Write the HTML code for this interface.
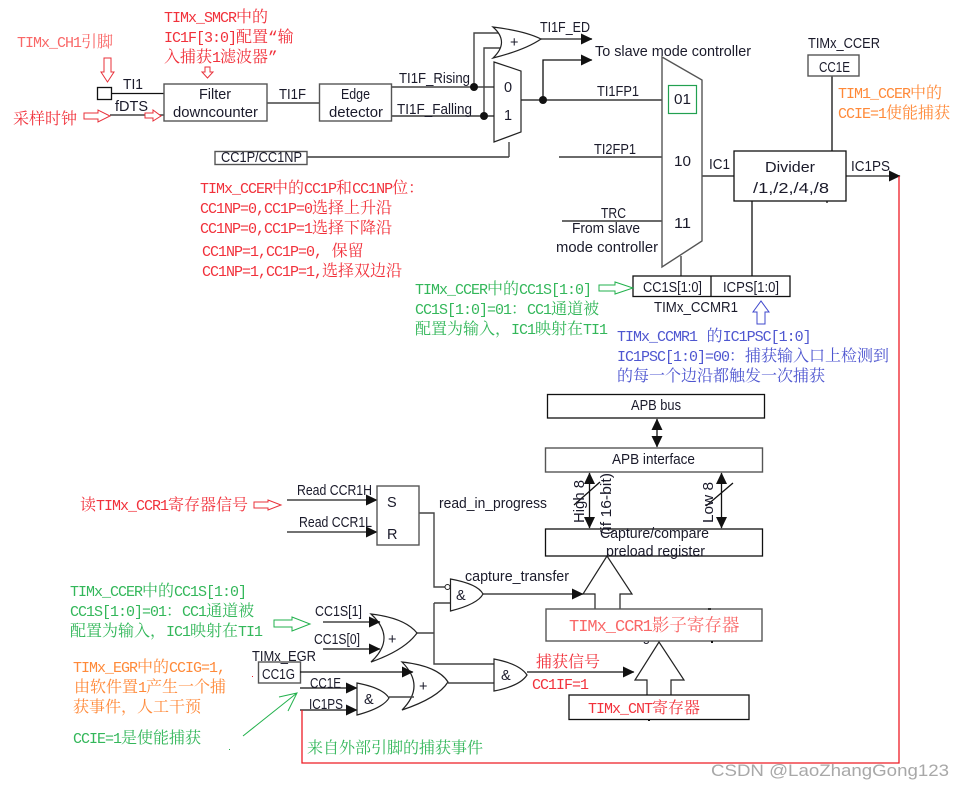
<!DOCTYPE html>
<html><head><meta charset="utf-8">
<style>
html,body{margin:0;padding:0;background:#fff;width:965px;height:790px;overflow:hidden}
svg{display:block}
.k{font-family:"Liberation Sans",sans-serif;font-size:14.5px;fill:#1a1a2a}
.c{font-family:"Liberation Mono","Noto Serif CJK SC",serif;font-size:16px;fill-opacity:.92}
.c tspan{font-size:15px;letter-spacing:-1px}
.r{fill:#f0202a}.g{fill:#22b14c}.o{fill:#ff7f27}.b{fill:#3f48cc}.lr{fill:#f85a5a}
.l{fill:none;stroke:#444;stroke-width:1.4}
.d{fill:none;stroke:#111;stroke-width:1.3}
.box{fill:#fff;stroke:#555;stroke-width:1.4}
.bk{fill:#fff;stroke:#111;stroke-width:1.3}
.ha{fill:#fff;stroke:#e8303a;stroke-width:1}
.hg{fill:#fff;stroke:#22b14c;stroke-width:1}
.hb{fill:#fff;stroke:#3f48cc;stroke-width:1}
.gate{fill:#fff;stroke:#222;stroke-width:1.2}
</style></head><body>
<svg width="965" height="790" viewBox="0 0 965 790" xmlns="http://www.w3.org/2000/svg">
<defs><marker id="a" markerWidth="12" markerHeight="12" refX="11" refY="5.5" orient="auto" markerUnits="userSpaceOnUse"><path d="M0 0L11.5 5.5L0 11z" fill="#111"/></marker>
<marker id="s" markerWidth="12" markerHeight="12" refX="11" refY="5.5" orient="auto-start-reverse" markerUnits="userSpaceOnUse"><path d="M0 0L11.5 5.5L0 11z" fill="#111"/></marker></defs>

<!-- top wires -->
<path class="d" d="M112 93.5H164"/><path class="l" d="M110 115H164"/><path class="l" d="M267 103H320"/>
<path class="l" d="M391 87H474M474 87V33H500"/><path class="d" d="M391 116H494"/><path class="l" d="M474 87H494M484 116V48H500"/>
<circle cx="474" cy="87" r="4" fill="#111"/><circle cx="484" cy="116" r="4" fill="#111"/>
<path class="d" d="M307 157H509"/><path class="l" d="M509 157V142"/>
<path class="l" d="M541 39H592" marker-end="url(#a)"/>
<path class="d" d="M521 100H662M543 100V60H592" marker-end="url(#a)"/>
<circle cx="543" cy="100" r="4" fill="#111"/>
<path class="d" d="M559 157H662M562 221H662M702 176H734"/>
<path class="l" d="M846 176H900" marker-end="url(#a)"/>
<path class="d" d="M832 76V151M752 201V276M827 201V203"/><path class="l" d="M681 256V276"/>

<!-- top boxes -->
<rect class="bk" x="97.500" y="87.500" width="14" height="12"/>
<rect class="box" x="164" y="84" width="103" height="37"/>
<rect class="box" x="319.500" y="84" width="72" height="37"/>
<rect class="box" x="215" y="151.500" width="92" height="13"/>
<path class="gate" d="M494 62L521 71V132L494 142Z"/>
<path class="gate" d="M493 27Q525 31 541 39Q525 50 493 58Q510 42 493 27Z"/>
<path class="box" d="M662 57L702 80V241L662 267Z"/>
<rect x="668.500" y="85.500" width="28" height="28" fill="none" stroke="#22a050" stroke-width="1.2"/>
<rect class="bk" x="734" y="151" width="112" height="50"/>
<rect class="box" x="808" y="55" width="51" height="21"/>
<rect class="bk" x="633" y="276" width="157" height="20.500"/><path class="d" d="M711 276V296"/>

<!-- top labels -->
<text class="k" x="123" y="89" textLength="20" lengthAdjust="spacingAndGlyphs">TI1</text>
<text class="k" x="115" y="111" textLength="33" lengthAdjust="spacingAndGlyphs">fDTS</text>
<text class="k" x="199" y="99" textLength="32" lengthAdjust="spacingAndGlyphs">Filter</text>
<text class="k" x="173" y="117" textLength="85" lengthAdjust="spacingAndGlyphs">downcounter</text>
<text class="k" x="279" y="99" textLength="27" lengthAdjust="spacingAndGlyphs">TI1F</text>
<text class="k" x="341" y="99" textLength="29" lengthAdjust="spacingAndGlyphs">Edge</text>
<text class="k" x="329" y="117" textLength="54" lengthAdjust="spacingAndGlyphs">detector</text>
<text class="k" x="399" y="83" textLength="71" lengthAdjust="spacingAndGlyphs">TI1F_Rising</text>
<text class="k" x="397" y="114" textLength="75" lengthAdjust="spacingAndGlyphs">TI1F_Falling</text>
<text class="k" x="504" y="92">0</text><text class="k" x="504" y="120">1</text>
<text class="k" x="510" y="47">+</text>
<text class="k" x="540" y="32" textLength="50" lengthAdjust="spacingAndGlyphs">TI1F_ED</text>
<text class="k" x="595" y="56" textLength="156" lengthAdjust="spacingAndGlyphs">To slave mode controller</text>
<text class="k" x="597" y="96" textLength="42" lengthAdjust="spacingAndGlyphs">TI1FP1</text>
<text class="k" x="674" y="104" textLength="17" lengthAdjust="spacingAndGlyphs">01</text>
<text class="k" x="594" y="154" textLength="42" lengthAdjust="spacingAndGlyphs">TI2FP1</text>
<text class="k" x="674" y="166" textLength="17" lengthAdjust="spacingAndGlyphs">10</text>
<text class="k" x="674" y="228" textLength="17" lengthAdjust="spacingAndGlyphs">11</text>
<text class="k" x="601" y="218" textLength="25" lengthAdjust="spacingAndGlyphs">TRC</text>
<text class="k" x="572" y="233" textLength="68" lengthAdjust="spacingAndGlyphs">From slave</text>
<text class="k" x="556" y="252" textLength="102" lengthAdjust="spacingAndGlyphs">mode controller</text>
<text class="k" x="709" y="169" textLength="21" lengthAdjust="spacingAndGlyphs">IC1</text>
<text class="k" x="765" y="172" textLength="50" lengthAdjust="spacingAndGlyphs">Divider</text>
<text class="k" x="753" y="193" textLength="76" lengthAdjust="spacingAndGlyphs">/1,/2,/4,/8</text>
<text class="k" x="851" y="171" textLength="39" lengthAdjust="spacingAndGlyphs">IC1PS</text>
<text class="k" x="808" y="48" textLength="72" lengthAdjust="spacingAndGlyphs">TIMx_CCER</text>
<text class="k" x="819" y="72" textLength="31" lengthAdjust="spacingAndGlyphs">CC1E</text>
<text class="k" x="643" y="292" textLength="59" lengthAdjust="spacingAndGlyphs">CC1S[1:0]</text>
<text class="k" x="723" y="292" textLength="56" lengthAdjust="spacingAndGlyphs">ICPS[1:0]</text>
<text class="k" x="654" y="312" textLength="84" lengthAdjust="spacingAndGlyphs">TIMx_CCMR1</text>
<text class="k" x="221" y="162" textLength="81" lengthAdjust="spacingAndGlyphs">CC1P/CC1NP</text>

<!-- top annotations -->
<text class="c lr" x="17" y="47"><tspan>TIMx_CH1</tspan>引脚</text>
<text class="c r" x="164" y="22"><tspan>TIMx_SMCR</tspan>中的</text>
<text class="c r" x="164" y="42"><tspan>IC1F[3:0]</tspan>配置“输</text>
<text class="c r" x="164" y="62">入捕获<tspan>1</tspan>滤波器”</text>
<text class="c r" x="13" y="124">采样时钟</text>
<text class="c r" x="200" y="193"><tspan>TIMx_CCER</tspan>中的<tspan>CC1P</tspan>和<tspan>CC1NP</tspan>位：</text>
<text class="c r" x="200" y="213"><tspan>CC1NP=0,CC1P=0</tspan>选择上升沿</text>
<text class="c r" x="200" y="233"><tspan>CC1NP=0,CC1P=1</tspan>选择下降沿</text>
<text class="c r" x="202" y="256"><tspan>CC1NP=1,CC1P=0,</tspan> 保留</text>
<text class="c r" x="202" y="276"><tspan>CC1NP=1,CC1P=1,</tspan>选择双边沿</text>
<text class="c g" x="415" y="294"><tspan>TIMx_CCER</tspan>中的<tspan>CC1S[1:0]</tspan></text>
<text class="c g" x="415" y="314"><tspan>CC1S[1:0]=01</tspan>：<tspan>CC1</tspan>通道被</text>
<text class="c g" x="415" y="334">配置为输入，<tspan>IC1</tspan>映射在<tspan>TI1</tspan></text>
<text class="c b" x="617" y="341"><tspan>TIMx_CCMR1</tspan> 的<tspan>IC1PSC[1:0]</tspan></text>
<text class="c b" x="617" y="361"><tspan>IC1PSC[1:0]=00</tspan>：捕获输入口上检测到</text>
<text class="c b" x="617" y="381">的每一个边沿都触发一次捕获</text>
<text class="c o" x="838" y="98"><tspan>TIM1_CCER</tspan>中的</text>
<text class="c o" x="838" y="118"><tspan>CCIE=1</tspan>使能捕获</text>

<!-- hollow arrows -->
<path class="ha" d="M104 58H111V72H114L107.500 82L101 72H104Z"/>
<path class="ha" d="M205 67H210V72H213L207.500 78L202 72H205Z"/>
<path class="ha" d="M84 113H98V110L110 116L98 122V119H84Z"/>
<path class="ha" d="M145 113H153V110L161 116L153 121V118H145Z"/>
<path class="hg" d="M599 285H615V282L633 288L615 294V291H599Z"/>
<path class="hb" d="M757 324V312H753L761 301L769 312H765V324Z"/>
<path class="ha" d="M254 502H268V500L281 505L268 510V508H254Z"/>
<path class="hg" d="M274 620H292V617L310 624L292 631V627H274Z"/>

<!-- APB block -->
<rect class="bk" x="547.500" y="394.500" width="217" height="23.500"/>
<rect class="box" x="545.500" y="448" width="217" height="24"/>
<path class="d" d="M657 419V447" marker-start="url(#s)" marker-end="url(#s)"/>
<path class="d" d="M589.500 473V528" marker-start="url(#s)" marker-end="url(#s)"/>
<path class="d" d="M721.500 473V528" marker-start="url(#s)" marker-end="url(#s)"/>
<path class="d" d="M574 505L600 482M706 506L733 483"/>
<rect class="bk" x="545.500" y="529" width="217" height="27"/>
<text class="k" x="631" y="410" textLength="50" lengthAdjust="spacingAndGlyphs">APB bus</text>
<text class="k" x="612" y="464" textLength="83" lengthAdjust="spacingAndGlyphs">APB interface</text>
<text class="k" x="439" y="508" textLength="108" lengthAdjust="spacingAndGlyphs">read_in_progress</text>
<text class="k" transform="translate(584,523) rotate(-90)" textLength="43" lengthAdjust="spacingAndGlyphs">High  8</text>
<text class="k" transform="translate(611,535) rotate(-90)" textLength="62" lengthAdjust="spacingAndGlyphs">(if 16-bit)</text>
<text class="k" transform="translate(713,523) rotate(-90)" textLength="41" lengthAdjust="spacingAndGlyphs">Low  8</text>
<text class="k" x="600" y="538" textLength="109" lengthAdjust="spacingAndGlyphs">Capture/compare</text>
<text class="k" x="606" y="556" textLength="99" lengthAdjust="spacingAndGlyphs">preload register</text>

<!-- bottom wires under gates -->
<path class="l" d="M419 513H434V587H445M434 603H450M434 603V664H494M417 633H434"/>
<path class="l" d="M287 500H377" marker-end="url(#a)"/><path class="l" d="M287 532H377" marker-end="url(#a)"/>
<circle cx="447.500" cy="587" r="2.500" fill="#fff" stroke="#222"/>
<path class="l" d="M483 594H583" marker-end="url(#a)"/>
<path class="d" d="M300 688H357" marker-end="url(#a)"/><path class="d" d="M300 710H357" marker-end="url(#a)"/>
<path class="l" d="M448 683H494"/><path class="d" d="M527 672H634" marker-end="url(#a)"/>
<path d="M899 176V763H302V710" fill="none" stroke="#ee1c25" stroke-width="1.3"/>
<path d="M243 736L297 693M279 697L297 693L288 711" fill="none" stroke="#22b14c" stroke-width="1"/>

<!-- gates -->
<rect class="box" x="377" y="486" width="42" height="59"/>
<path class="gate" d="M450.500 579Q478 584 483 594Q478 604 450.500 611Z"/>
<path class="gate" d="M371 614Q405 618 417 633Q405 650 371 662Q397 638 371 614Z"/>
<path class="gate" d="M402 662Q438 666 448 682Q438 698 402 710Q426 686 402 662Z"/>
<path class="gate" d="M357 683Q383 688 389 698Q383 708 357 715Z"/>
<path class="gate" d="M494 659Q520 664 527 675Q520 686 494 691Z"/>
<rect class="box" x="258.500" y="662" width="42" height="21"/>

<!-- wires over gates -->
<path class="l" d="M323 622H380" marker-end="url(#a)"/><path class="d" d="M323 649H380" marker-end="url(#a)"/>
<path class="d" d="M300 672H413" marker-end="url(#a)"/>
<path class="l" d="M389 697H414"/>

<!-- big hollow arrows and registers -->
<path class="gate" d="M595 609V594H583L607 556L632 594H620V609"/>
<text class="k" x="631" y="641" textLength="44" lengthAdjust="spacingAndGlyphs">register</text>
<rect class="box" x="546" y="609" width="216" height="32"/>
<path class="gate" d="M647 696V680H635L659 642L684 680H671V696"/>
<rect class="bk" x="569" y="695" width="180" height="24.500"/>
<text class="c lr" x="569" y="631" style="font-size:17.5px"><tspan style="font-size:17px">TIMx_CCR1</tspan>影子寄存器</text>
<text class="c r" x="588" y="713"><tspan>TIMx_CNT</tspan>寄存器</text>
<rect x="711" y="641" width="2" height="2" fill="#111"/><rect x="708" y="608" width="3" height="2" fill="#333"/><rect x="648" y="719" width="2" height="2" fill="#111"/>

<!-- bottom labels -->
<text class="k" x="465" y="581" textLength="104" lengthAdjust="spacingAndGlyphs">capture_transfer</text>
<text class="k" x="297" y="495" textLength="75" lengthAdjust="spacingAndGlyphs">Read CCR1H</text>
<text class="k" x="299" y="527" textLength="73" lengthAdjust="spacingAndGlyphs">Read CCR1L</text>
<text class="k" x="387" y="507">S</text><text class="k" x="387" y="539">R</text>
<text class="k" x="456" y="600">&amp;</text><text class="k" x="364" y="704">&amp;</text><text class="k" x="501" y="680">&amp;</text>
<text class="k" x="388" y="644">+</text><text class="k" x="419" y="691">+</text>
<text class="k" x="315" y="616" textLength="47" lengthAdjust="spacingAndGlyphs">CC1S[1]</text>
<text class="k" x="314" y="644" textLength="46" lengthAdjust="spacingAndGlyphs">CC1S[0]</text>
<text class="k" x="252" y="661" textLength="64" lengthAdjust="spacingAndGlyphs">TIMx_EGR</text>
<text class="k" x="262" y="679" textLength="33" lengthAdjust="spacingAndGlyphs">CC1G</text>
<text class="k" x="310" y="688" textLength="31" lengthAdjust="spacingAndGlyphs">CC1E</text>
<text class="k" x="309" y="709" textLength="34" lengthAdjust="spacingAndGlyphs">IC1PS</text>

<!-- bottom annotations -->
<text class="c r" x="80" y="510">读<tspan>TIMx_CCR1</tspan>寄存器信号</text>
<text class="c g" x="70" y="596"><tspan>TIMx_CCER</tspan>中的<tspan>CC1S[1:0]</tspan></text>
<text class="c g" x="70" y="616"><tspan>CC1S[1:0]=01</tspan>：<tspan>CC1</tspan>通道被</text>
<text class="c g" x="70" y="636">配置为输入，<tspan>IC1</tspan>映射在<tspan>TI1</tspan></text>
<text class="c o" x="73" y="672"><tspan>TIMx_EGR</tspan>中的<tspan>CCIG=1,</tspan></text>
<text class="c o" x="74" y="692">由软件置<tspan>1</tspan>产生一个捕</text>
<text class="c o" x="73" y="712">获事件，人工干预</text>
<text class="c g" x="73" y="743"><tspan>CCIE=1</tspan>是使能捕获</text>
<text class="c g" x="307" y="753">来自外部引脚的捕获事件</text>
<text class="c r" x="536" y="667">捕获信号</text>
<text class="c r" x="532" y="689"><tspan>CC1IF=1</tspan></text>
<rect x="252" y="676" width="1" height="1" fill="#f0202a"/><rect x="229" y="749" width="1" height="1" fill="#22b14c"/>
<text x="711" y="776" font-family="Liberation Sans,sans-serif" font-size="17" fill="#a8a8a8" textLength="238" lengthAdjust="spacingAndGlyphs">CSDN @LaoZhangGong123</text>
</svg>
</body></html>
